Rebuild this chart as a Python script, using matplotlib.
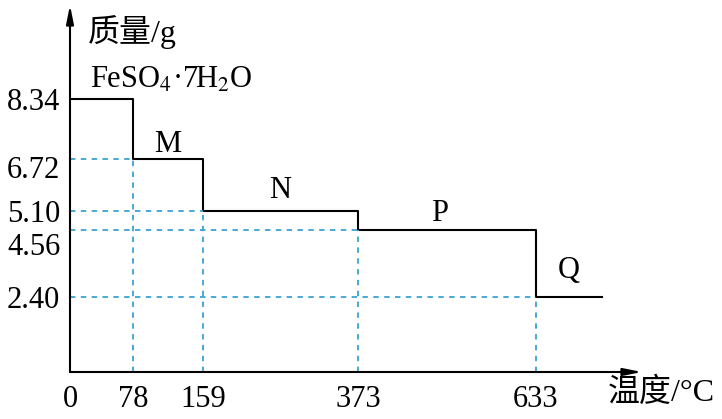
import numpy as np
import matplotlib
matplotlib.use("Agg")
from matplotlib import pyplot as plt
from matplotlib.transforms import ScaledTranslation

# step data
temps = [0, 78, 159, 373, 633, 720]
masses = [8.34, 6.72, 5.10, 4.56, 2.40]
stage_names = ["M", "N", "P", "Q"]

# the chart is a sketch, not to scale: piecewise map from value to pixel
x_vals = [0, 78, 159, 373, 633, 720, 800]
x_pix = [70, 133, 203, 358, 536, 602, 642]
y_vals = [0, 2.40, 4.56, 5.10, 6.72, 8.34, 10]
y_pix = [47, 122, 189, 208, 260, 320, 414]

plt.rcParams['font.family'] = ['Liberation Serif', 'Noto Sans CJK SC']
plt.rcParams['mathtext.fontset'] = 'stix'

blue = '#3aa3d4'
fs = 22
fs_cjk = 23

fig = plt.figure(figsize=(7.22, 4.19), dpi=100)
ax = fig.add_axes([70 / 722, 47 / 419, (642 - 70) / 722, (414 - 47) / 419])
ax.set_xscale('function', functions=(lambda v: np.interp(v, x_vals, x_pix),
                                     lambda p: np.interp(p, x_pix, x_vals)))
ax.set_yscale('function', functions=(lambda v: np.interp(v, y_vals, y_pix),
                                     lambda p: np.interp(p, y_pix, y_vals)))
ax.set_xlim(0, 800)
ax.set_ylim(0, 10)

# main step curve
ax.step(temps, masses + [masses[-1]], where='post', color='black', lw=1.5)

# dashed guide lines
for i in range(1, len(temps) - 1):
    t = temps[i]
    m = masses[i]
    ax.plot([0, t], [m, m], ls=(0, (3, 3)), color=blue, lw=1.3)
    ax.plot([t, t], [0, m], ls=(0, (3, 3)), color=blue, lw=1.3)

# stage labels
offsets = [(0, 5), (0, 9.5), (-5, 6.5), (0, 14)]
for i, name in enumerate(stage_names):
    xm = (temps[i + 1] + temps[i + 2]) / 2
    ax.annotate(name, (xm, masses[i + 1]), xytext=offsets[i],
                textcoords='offset points', ha='center', va='baseline', fontsize=fs)

ax.annotate("FeSO$_4$·7H$_2$O", (25, masses[0]), xytext=(0, 8),
            textcoords='offset points', fontsize=fs, ha='left', va='baseline')

# axes with arrows
for s in ax.spines.values():
    s.set_visible(False)
for tip in [(1, 0), (0, 1)]:
    ax.annotate('', xy=tip, xytext=(0, 0), xycoords='axes fraction',
                arrowprops=dict(arrowstyle='-|>,head_length=1.1,head_width=0.22',
                                color='black', lw=1.5, shrinkA=0, shrinkB=0))

ax.set_xticks(temps[:-1])
ax.set_xticklabels([str(t) for t in temps[:-1]], fontsize=fs)
ax.set_yticks(masses)
ax.set_yticklabels(["%.2f" % m for m in masses], fontsize=fs)
ax.tick_params(length=0)
ax.tick_params(axis='y', pad=7)
ax.tick_params(axis='x', pad=9)

# some y labels sit a little below their lines in the original
y_shift = {6.72: 6, 4.56: 10}
for m, lab in zip(masses, ax.get_yticklabels()):
    if m in y_shift:
        lab.set_transform(lab.get_transform() +
                          ScaledTranslation(0, -y_shift[m] / 72, fig.dpi_scale_trans))

fig.text(88 / 722, 1 - 32 / 419, "质量/g", fontsize=fs_cjk, ha='left', va='center')
fig.text(608 / 722, 1 - 393 / 419, "温度/°C", fontsize=fs_cjk, ha='left', va='center')

fig.savefig("out.png", dpi=100)
